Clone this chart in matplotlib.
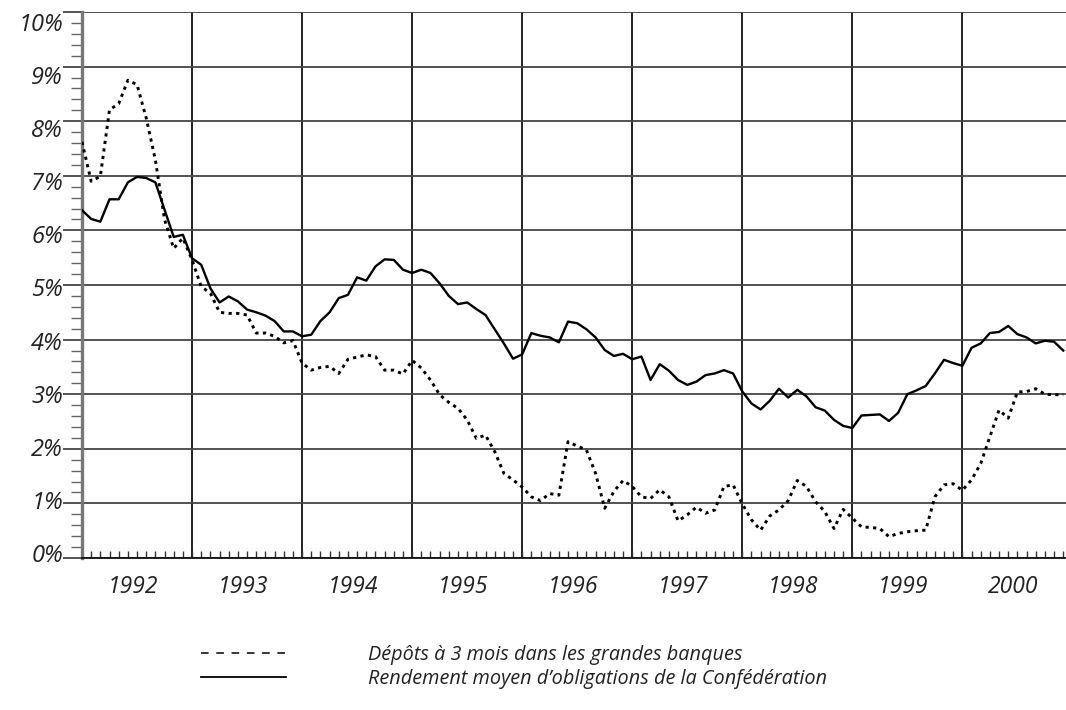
import numpy as np
import matplotlib
matplotlib.use('Agg')
from matplotlib import pyplot as plt
from matplotlib.lines import Line2D
from matplotlib.ticker import FixedLocator, MultipleLocator, NullFormatter

# monthly data, Jan 1992 .. Dec 2000
years = ['1992', '1993', '1994', '1995', '1996', '1997', '1998', '1999', '2000']

depots_3m = [
    7.62, 6.90, 6.99, 8.21, 8.32, 8.75, 8.67, 8.06, 7.29, 6.20, 5.67, 5.86,
    5.46, 4.97, 4.85, 4.50, 4.48, 4.48, 4.45, 4.12, 4.12, 4.06, 3.94, 3.98,
    3.57, 3.44, 3.49, 3.51, 3.38, 3.64, 3.68, 3.72, 3.69, 3.44, 3.44, 3.37,
    3.62, 3.48, 3.26, 2.99, 2.85, 2.74, 2.53, 2.19, 2.25, 1.95, 1.55, 1.43,
    1.30, 1.12, 1.05, 1.18, 1.15, 2.13, 2.05, 1.98, 1.55, 0.91, 1.22, 1.42,
    1.31, 1.12, 1.09, 1.25, 1.12, 0.68, 0.79, 0.93, 0.82, 0.88, 1.31, 1.34,
    0.99, 0.70, 0.51, 0.77, 0.88, 1.05, 1.42, 1.31, 1.03, 0.85, 0.54, 0.89,
    0.73, 0.57, 0.56, 0.54, 0.39, 0.45, 0.48, 0.50, 0.51, 1.12, 1.34, 1.36,
    1.24, 1.43, 1.73, 2.22, 2.71, 2.56, 3.04, 3.05, 3.10, 3.00, 2.99, 2.99,
]

rendement_conf = [
    6.37, 6.21, 6.16, 6.57, 6.57, 6.88, 6.98, 6.96, 6.88, 6.38, 5.88, 5.92,
    5.49, 5.37, 4.94, 4.68, 4.79, 4.70, 4.55, 4.50, 4.44, 4.34, 4.15, 4.15,
    4.06, 4.09, 4.34, 4.50, 4.76, 4.82, 5.14, 5.08, 5.34, 5.47, 5.46, 5.28,
    5.22, 5.28, 5.22, 5.03, 4.80, 4.65, 4.68, 4.56, 4.45, 4.19, 3.93, 3.65,
    3.73, 4.12, 4.07, 4.04, 3.95, 4.33, 4.30, 4.19, 4.04, 3.81, 3.70, 3.74,
    3.64, 3.69, 3.26, 3.55, 3.43, 3.26, 3.17, 3.23, 3.35, 3.38, 3.44, 3.38,
    3.05, 2.83, 2.72, 2.88, 3.10, 2.94, 3.08, 2.96, 2.76, 2.70, 2.53, 2.42,
    2.38, 2.61, 2.62, 2.63, 2.51, 2.66, 3.00, 3.07, 3.15, 3.38, 3.63, 3.57,
    3.52, 3.85, 3.93, 4.12, 4.14, 4.25, 4.10, 4.04, 3.93, 3.98, 3.96, 3.80,
]

labels = ['Dépôts à 3 mois dans les grandes banques',
          'Rendement moyen d\u2019obligations de la Confédération']

FONT = dict(family=['Open Sans', 'DejaVu Sans'], style='italic',
            weight='normal', color='#222222')


def main():
    fig = plt.figure(figsize=(10.66, 7.10), dpi=100)
    ax = fig.add_axes([82 / 1066, 1 - 558 / 710, 1 - 82 / 1066, 546 / 710])

    x = np.arange(len(rendement_conf))
    ax.plot(x, depots_3m, color='black', lw=2.1,
            linestyle=(0, (1.1, 1.5)), solid_capstyle='butt', zorder=3)
    ax.plot(x, rendement_conf, color='black', lw=1.7, zorder=4)

    ax.set_xlim(0, 107.3)
    ax.set_ylim(0, 10)

    # year boundaries as major ticks + vertical grid, months as minor ticks
    ax.xaxis.set_major_locator(FixedLocator(np.arange(12, len(x), 12)))
    ax.xaxis.set_minor_locator(MultipleLocator(1))
    ax.xaxis.set_major_formatter(NullFormatter())
    ax.tick_params(axis='x', which='both', direction='in', length=5,
                   width=1.0, color='#333333')
    ax.grid(axis='x', which='major', color='#111111', lw=1.3)

    ax.yaxis.set_major_locator(MultipleLocator(1))
    ax.yaxis.set_minor_locator(MultipleLocator(0.2))
    ax.yaxis.set_major_formatter(NullFormatter())
    ax.tick_params(axis='y', which='major', direction='out', length=14,
                   width=1.3, color='#444444')
    ax.tick_params(axis='y', which='minor', direction='out', length=8,
                   width=1.0, color='#666666')
    ax.grid(axis='y', which='major', color='#444444', lw=1.3)

    for s in ['top', 'right']:
        ax.spines[s].set_visible(False)
    ax.spines['left'].set_color('#777777')
    ax.spines['left'].set_linewidth(2.4)
    ax.spines['bottom'].set_color('#111111')
    ax.spines['bottom'].set_linewidth(1.3)

    # y labels, drawn a little below their gridlines like in the source
    for v in range(0, 11):
        ax.annotate('%d%%' % v, xy=(0, v), xycoords=('axes fraction', 'data'),
                    xytext=(-19, 2 - 1.5 * v), textcoords='offset pixels',
                    ha='right', va='center', fontsize=17, **FONT)

    for k, yr in enumerate(years):
        ax.annotate(yr, xy=(12 * k + 6, 0), xycoords=('data', 'axes fraction'),
                    xytext=(-4, -29), textcoords='offset pixels',
                    ha='center', va='center', fontsize=16.5, **FONT)

    handles = [Line2D([], [], color='black', lw=1.1, linestyle=(0, (5, 5))),
               Line2D([], [], color='black', lw=1.3)]
    leg = fig.legend(handles, labels, loc='upper left',
                     bbox_to_anchor=(201 / 1066, 1 - 645 / 710),
                     frameon=False, handlelength=4.3, handletextpad=4.1,
                     labelspacing=0.2, borderpad=0, borderaxespad=0,
                     prop=dict(family=FONT['family'], style='italic',
                               weight='normal', size=14.3))
    for t in leg.get_texts():
        t.set_color('#222222')

    fig.savefig('out.png', dpi=100)


if __name__ == "__main__":
    main()
